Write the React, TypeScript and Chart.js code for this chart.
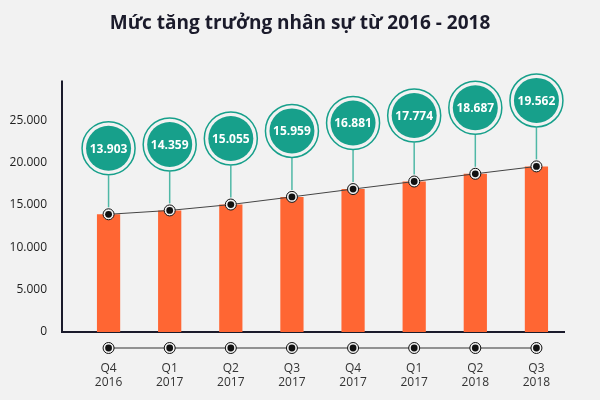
import React, { useEffect, useRef } from "react";
import { Chart, registerables } from "chart.js";

Chart.register(...registerables);

const quarters: string[][] = [
  ["Q4", "2016"], ["Q1", "2017"], ["Q2", "2017"], ["Q3", "2017"],
  ["Q4", "2017"], ["Q1", "2017"], ["Q2", "2018"], ["Q3", "2018"],
];
const staff: number[] = [13903, 14359, 15055, 15959, 16881, 17774, 18687, 19562];
const yTicks: number[] = [0, 5000, 10000, 15000, 20000, 25000];
const titleText = "Mức tăng trưởng nhân sự từ 2016 - 2018";

const BG = "#f2f2f2";
const ORANGE = "#ff6633";
const TEAL = "#17a08b";
const STEM = "#4fb8a6";
const DARK = "#1b1b2b";
const FONT = "'Open Sans', 'Noto Sans', sans-serif";

const fmt = (v: number) => {
  const s = Math.round(v).toString();
  return s.replace(/\B(?=(\d{3})+(?!\d))/g, ".");
};

const decorPlugin = {
  id: "decor",
  beforeDatasetsDraw(chart: any) {
    const { ctx, chartArea } = chart;
    const y = chart.scales.y;
    ctx.save();
    // title, centred on the page
    ctx.fillStyle = DARK;
    ctx.font = `bold 19px ${FONT}`;
    ctx.textAlign = "center";
    ctx.textBaseline = "middle";
    ctx.fillText(titleText, chart.width / 2, 24);
    // axis lines
    ctx.strokeStyle = DARK;
    ctx.lineWidth = 2;
    const axX = chartArea.left - 16;
    ctx.beginPath();
    ctx.moveTo(axX, y.getPixelForValue(29700));
    ctx.lineTo(axX, chartArea.bottom);
    ctx.lineTo(chartArea.right - 2, chartArea.bottom);
    ctx.stroke();
    ctx.restore();
  },
  afterDatasetsDraw(chart: any) {
    const { ctx, chartArea } = chart;
    const meta = chart.getDatasetMeta(1);
    const xs = chart.scales.x;
    ctx.save();
    // bottom marker row
    const rowY = chartArea.bottom + 16;
    const x0 = xs.getPixelForValue(0);
    const x1 = xs.getPixelForValue(staff.length - 1);
    ctx.strokeStyle = "#333";
    ctx.lineWidth = 1;
    ctx.beginPath();
    ctx.moveTo(x0, rowY);
    ctx.lineTo(x1, rowY);
    ctx.stroke();
    for (let i = 0; i < staff.length; i++) {
      const px = xs.getPixelForValue(i);
      ctx.beginPath();
      ctx.arc(px, rowY, 5.5, 0, Math.PI * 2);
      ctx.fillStyle = BG;
      ctx.fill();
      ctx.strokeStyle = "#111";
      ctx.lineWidth = 1;
      ctx.stroke();
      ctx.beginPath();
      ctx.arc(px, rowY, 3.4, 0, Math.PI * 2);
      ctx.fillStyle = "#111";
      ctx.fill();
    }
    // bubbles
    meta.data.forEach((pt: any, i: number) => {
      const cx = pt.x;
      const cy = pt.y - 66;
      ctx.strokeStyle = STEM;
      ctx.lineWidth = 1.5;
      ctx.beginPath();
      ctx.moveTo(cx, cy + 27);
      ctx.lineTo(cx, pt.y - 7);
      ctx.stroke();
      ctx.strokeStyle = TEAL;
      ctx.beginPath();
      ctx.arc(cx, cy, 26.5, 0, Math.PI * 2);
      ctx.fillStyle = BG;
      ctx.fill();
      ctx.stroke();
      ctx.beginPath();
      ctx.arc(cx, cy, 22.5, 0, Math.PI * 2);
      ctx.fillStyle = TEAL;
      ctx.fill();
      ctx.fillStyle = "#ffffff";
      ctx.font = `bold 12px ${FONT}`;
      ctx.textAlign = "center";
      ctx.textBaseline = "middle";
      ctx.fillText(fmt(staff[i]), cx, cy + 1);
    });
    ctx.restore();
  },
};

export default function App() {
  const ref = useRef<HTMLCanvasElement | null>(null);
  useEffect(() => {
    if (!ref.current) return;
    const chart = new Chart(ref.current, {
      type: "bar",
      data: {
        labels: quarters,
        datasets: [
          {
            type: "bar",
            data: staff,
            backgroundColor: ORANGE,
            categoryPercentage: 1,
            barPercentage: 0.38,
            order: 3,
          } as any,
          {
            type: "line",
            data: staff,
            borderColor: "#444",
            borderWidth: 1,
            pointRadius: 5.5,
            pointBorderWidth: 1,
            pointBorderColor: "#111",
            pointBackgroundColor: BG,
            order: 2,
          } as any,
          {
            type: "line",
            data: staff,
            showLine: false,
            pointRadius: 3.4,
            pointBorderWidth: 0,
            pointBackgroundColor: "#111",
            order: 1,
          } as any,
        ],
      },
      options: {
        animation: false,
        responsive: false,
        layout: { padding: { left: 10, right: 33, top: 78, bottom: 10 } },
        plugins: {
          legend: { display: false },
          tooltip: { enabled: false },
          title: { display: false },
        },
        scales: {
          x: {
            afterFit: (s: any) => {
              s.height = 58;
            },
            grid: { display: false, drawTicks: false },
            border: { display: false },
            ticks: {
              color: "#333",
              font: { family: FONT, size: 12 },
              padding: 29,
              maxRotation: 0,
              autoSkip: false,
            },
          },
          y: {
            min: 0,
            max: 30000,
            afterBuildTicks: (s: any) => {
              s.ticks = yTicks.map((v) => ({ value: v }));
            },
            afterFit: (s: any) => {
              s.width = 68;
            },
            grid: { display: false, drawTicks: false },
            border: { display: false },
            ticks: {
              color: "#222",
              font: { family: FONT, size: 12 },
              padding: 31,
              callback: (v: any) => fmt(Number(v)),
            },
          },
        },
      },
      plugins: [decorPlugin],
    });
    return () => chart.destroy();
  }, []);
  return (
    <div style={{ position: "absolute", left: 0, top: 0, width: 600, height: 400, background: BG }}>
      <canvas ref={ref} width={600} height={400} />
    </div>
  );
}
